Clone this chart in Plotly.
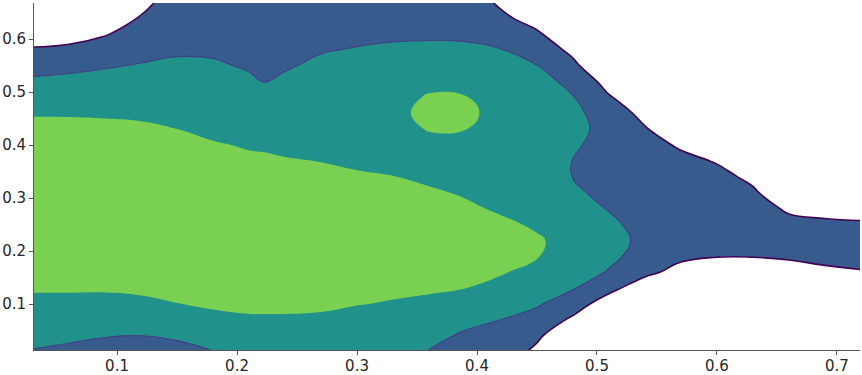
import numpy as np
import plotly.graph_objects as go

# Grid of estimated density levels (z per x-column, bottom to top)
x_grid = [0.03, 0.06, 0.09, 0.12, 0.15, 0.18, 0.21, 0.2225, 0.24, 0.27, 0.30, 0.33,
          0.36, 0.39, 0.42, 0.45, 0.48, 0.51, 0.54, 0.57, 0.60, 0.63, 0.66, 0.69, 0.72]
y_grid = [0.01, 0.04, 0.07, 0.10, 0.13, 0.16, 0.19, 0.22, 0.25, 0.28, 0.31, 0.34,
          0.37, 0.40, 0.43, 0.46, 0.49, 0.52, 0.55, 0.58, 0.61, 0.64, 0.67]

z_columns = [
    [1.95, 2.24, 2.53, 2.88, 3.05, 3.12, 3.21, 3.30, 3.39, 3.48, 3.42, 3.33, 3.24, 3.15, 3.10, 2.97, 2.52, 2.15, 1.66, 1.09, 0.53, 0, 0],
    [1.83, 2.15, 2.47, 2.88, 3.05, 3.12, 3.21, 3.30, 3.39, 3.48, 3.43, 3.34, 3.25, 3.16, 3.10, 2.97, 2.56, 2.22, 1.78, 1.20, 0.61, 0, 0],
    [1.67, 2.04, 2.40, 2.87, 3.05, 3.12, 3.21, 3.30, 3.39, 3.48, 3.42, 3.33, 3.24, 3.15, 3.08, 2.96, 2.59, 2.27, 1.93, 1.43, 0.93, 0.43, 0],
    [1.59, 2.00, 2.41, 2.93, 3.06, 3.14, 3.23, 3.32, 3.41, 3.50, 3.41, 3.32, 3.23, 3.14, 3.08, 2.92, 2.59, 2.32, 2.05, 1.73, 1.39, 1.06, 0.72],
    [1.70, 2.13, 2.56, 2.99, 3.09, 3.18, 3.27, 3.36, 3.45, 3.45, 3.36, 3.27, 3.18, 3.09, 3.00, 2.78, 2.55, 2.33, 2.10, 1.92, 1.76, 1.61, 1.45],
    [1.98, 2.37, 2.85, 3.08, 3.13, 3.22, 3.31, 3.41, 3.50, 3.41, 3.32, 3.22, 3.13, 3.04, 2.89, 2.68, 2.48, 2.28, 2.07, 1.91, 1.78, 1.64, 1.50],
    [2.30, 2.59, 2.94, 3.10, 3.15, 3.24, 3.34, 3.44, 3.47, 3.37, 3.27, 3.18, 3.08, 2.96, 2.75, 2.54, 2.31, 2.09, 1.94, 1.83, 1.72, 1.61, 1.50],
    [2.30, 2.59, 2.94, 3.10, 3.16, 3.25, 3.35, 3.45, 3.45, 3.35, 3.26, 3.16, 3.06, 2.95, 2.67, 2.43, 2.19, 1.98, 1.88, 1.79, 1.69, 1.60, 1.50],
    [2.30, 2.59, 2.94, 3.10, 3.16, 3.26, 3.36, 3.47, 3.43, 3.33, 3.24, 3.14, 3.04, 2.88, 2.68, 2.49, 2.29, 2.10, 1.94, 1.83, 1.72, 1.61, 1.50],
    [2.30, 2.58, 2.92, 3.08, 3.15, 3.26, 3.36, 3.47, 3.43, 3.32, 3.21, 3.10, 2.99, 2.84, 2.70, 2.55, 2.40, 2.26, 2.11, 1.96, 1.81, 1.65, 1.50],
    [2.30, 2.55, 2.79, 3.02, 3.14, 3.25, 3.37, 3.48, 3.40, 3.28, 3.17, 3.05, 2.93, 2.80, 2.67, 2.54, 2.42, 2.29, 2.16, 2.03, 1.87, 1.68, 1.50],
    [2.30, 2.52, 2.74, 2.96, 3.10, 3.23, 3.36, 3.48, 3.39, 3.26, 3.13, 3.01, 2.89, 2.85, 2.70, 2.70, 2.60, 2.45, 2.28, 2.10, 1.89, 1.70, 1.50],
    [1.97, 2.26, 2.55, 2.84, 3.10, 3.21, 3.36, 3.50, 3.36, 3.21, 3.07, 2.90, 2.75, 2.75, 3.05, 3.30, 3.10, 2.70, 2.40, 2.12, 1.91, 1.71, 1.50],
    [1.50, 1.87, 2.25, 2.63, 3.01, 3.14, 3.28, 3.38, 3.24, 3.09, 2.95, 2.82, 2.72, 2.75, 3.02, 3.30, 3.05, 2.65, 2.35, 2.10, 1.90, 1.70, 1.50],
    [1.50, 1.75, 1.99, 2.38, 2.78, 3.06, 3.21, 3.25, 3.10, 2.93, 2.80, 2.70, 2.62, 2.55, 2.55, 2.55, 2.45, 2.30, 2.16, 2.02, 1.60, 1.17, 0.85],
    [0.80, 1.16, 1.66, 2.10, 2.43, 2.76, 3.03, 3.06, 2.93, 2.86, 2.78, 2.70, 2.62, 2.55, 2.47, 2.38, 2.27, 2.13, 2.01, 1.56, 1.11, 0.65, 0.20],
    [0.00, 0.20, 0.82, 1.49, 2.06, 2.30, 2.73, 2.80, 2.62, 2.38, 2.15, 1.98, 1.98, 2.10, 2.15, 2.12, 2.02, 1.90, 1.20, 0.77, 0.35, 0, 0],
    [0.00, 0.00, 0.10, 0.45, 1.30, 1.95, 2.15, 2.30, 2.20, 1.95, 1.75, 1.65, 1.65, 1.72, 1.83, 1.76, 1.10, 0.55, 0.10, 0, 0, 0, 0],
    [0.00, 0.00, 0.00, 0.10, 0.40, 1.25, 1.74, 1.80, 1.65, 1.50, 1.45, 1.42, 1.38, 1.30, 1.07, 0.60, 0.20, 0, 0, 0, 0, 0, 0],
    [0.00, 0.00, 0.00, 0.00, 0.20, 0.65, 1.20, 1.40, 1.45, 1.45, 1.42, 1.35, 1.20, 0.90, 0.50, 0.10, 0, 0, 0, 0, 0, 0, 0],
    [0.00, 0.00, 0.00, 0.00, 0.10, 0.50, 1.03, 1.30, 1.40, 1.42, 1.35, 1.20, 0.95, 0.60, 0.20, 0, 0, 0, 0, 0, 0, 0, 0],
    [0.00, 0.00, 0.00, 0.00, 0.10, 0.50, 1.03, 1.30, 1.38, 1.30, 1.10, 0.85, 0.40, 0.10, 0, 0, 0, 0, 0, 0, 0, 0, 0],
    [0.00, 0.00, 0.00, 0.00, 0.20, 0.60, 1.12, 1.30, 1.20, 0.90, 0.50, 0.20, 0, 0, 0, 0, 0, 0, 0, 0, 0, 0, 0],
    [0.00, 0.00, 0.00, 0.00, 0.30, 0.85, 1.20, 1.30, 1.15, 0.75, 0.35, 0, 0, 0, 0, 0, 0, 0, 0, 0, 0, 0, 0],
    [0.00, 0.00, 0.00, 0.00, 0.40, 0.95, 1.25, 1.30, 1.10, 0.70, 0.30, 0, 0, 0, 0, 0, 0, 0, 0, 0, 0, 0, 0],
]

levels = [1, 2, 3]
band_colors = ["#ffffff", "#375b8d", "#21918c", "#7ad151"]
line_colors = {1: "#440154", 2: "#433e85"}
x_ticks = [0.1, 0.2, 0.3, 0.4, 0.5, 0.6, 0.7]
y_ticks = [0.1, 0.2, 0.3, 0.4, 0.5, 0.6]
x_range = [0.0308, 0.7192]
y_range = [0.0132, 0.668]

z = np.array(z_columns).T

colorscale = [[i / (len(band_colors) - 1), c] for i, c in enumerate(band_colors)]

fig = go.Figure()
fig.add_trace(go.Contour(
    x=x_grid, y=y_grid, z=z,
    autocontour=False,
    contours=dict(start=levels[0], end=levels[-1], size=1, coloring="fill", showlines=False),
    colorscale=colorscale, showscale=False,
    line=dict(smoothing=1.3, width=0),
    hoverinfo="skip",
))
for lev, col in line_colors.items():
    fig.add_trace(go.Contour(
        x=x_grid, y=y_grid, z=z,
        autocontour=False,
        contours=dict(start=lev, end=lev, size=1, coloring="none", showlines=True),
        line=dict(color=col, width=1.6 if lev == 1 else 1.1, smoothing=1.3),
        showscale=False, hoverinfo="skip",
    ))

tick_font = dict(family="DejaVu Sans", size=15, color="#262626")
axis_common = dict(
    showline=True, linecolor="#555555", linewidth=1,
    ticks="outside", ticklen=4, tickwidth=1, tickcolor="#555555",
    showgrid=False, zeroline=False, mirror=False, automargin=False,
    tickfont=tick_font,
)
# main x axis: line + ticks; labels drawn by an overlaid axis placed a bit closer
fig.update_xaxes(range=x_range, tickvals=x_ticks, showticklabels=False, **axis_common)
fig.update_yaxes(range=y_range, tickvals=y_ticks,
                 ticktext=[f"{v:.1f}" for v in y_ticks], **axis_common)

fig.update_layout(
    width=862, height=375,
    margin=dict(l=34, r=2, t=3, b=25),
    paper_bgcolor="white", plot_bgcolor="white",
    showlegend=False,
    xaxis2=dict(
        overlaying="x", anchor="free", position=0, side="bottom",
        range=x_range, tickvals=x_ticks, ticktext=[f"{v:.1f}" for v in x_ticks],
        ticks="", ticklabelstandoff=5, showline=False, showgrid=False, zeroline=False,
        automargin=False, tickfont=tick_font,
    ),
)
# invisible trace to activate the label axis
fig.add_trace(go.Scatter(x=[x_ticks[0]], y=[y_ticks[0]], xaxis="x2", yaxis="y",
                         mode="markers", marker=dict(opacity=0), hoverinfo="skip",
                         showlegend=False))
fig.write_html("out.html")
